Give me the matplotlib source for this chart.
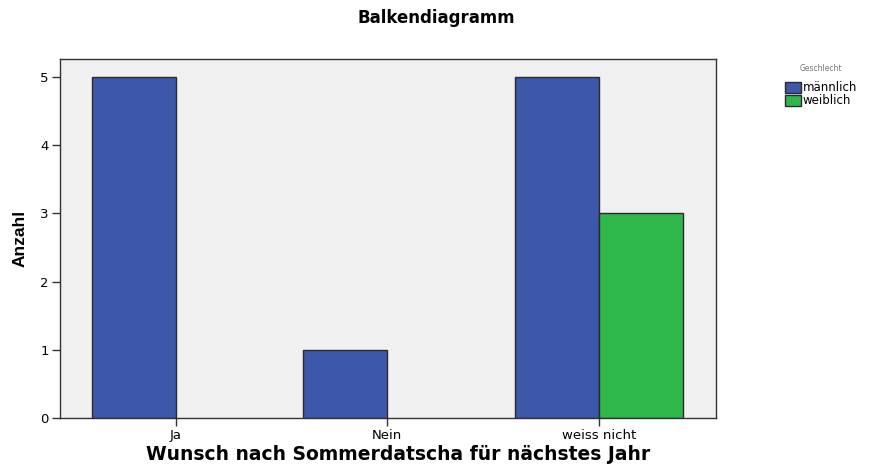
import numpy as np
import matplotlib
matplotlib.use('Agg')
import matplotlib.pyplot as plt
from matplotlib.patches import Patch

# data
categories = ['Ja', 'Nein', 'weiss nicht']
maennlich = [5, 1, 5]
weiblich = [0, 0, 3]
yticks = [0, 1, 2, 3, 4, 5]

blue = '#3D57AA'
green = '#2EB84B'
edge = '#2a2a2a'

plt.rcParams['font.family'] = ['DejaVu Sans']

fig = plt.figure(figsize=(8.72, 4.66), dpi=100)
ax = fig.add_axes([0.0688, 0.103, 0.752, 0.770])
ax.set_facecolor('#F0F0F0')

x = np.arange(len(categories))
w = 0.397
# zero counts get no bar at all (SPSS draws nothing there)
for vals, col, sgn in [(maennlich, blue, -1), (weiblich, green, 1)]:
    xs = [xi for xi, v in zip(x, vals) if v > 0]
    hs = [v for v in vals if v > 0]
    ax.bar(xs, hs, width=sgn * w, align='edge', color=col, edgecolor=edge, linewidth=1.0)

ax.set_xlim(-0.548, 2.553)
ax.set_ylim(0, 5.26)
ax.set_xticks(x)
ax.set_xticklabels(categories, fontsize=9.5)
ax.set_yticks(yticks)
ax.set_yticklabels([str(v) for v in yticks], fontsize=9.5)
ax.tick_params(direction='out', length=6, width=1, color='#333333', pad=2)
for s in ax.spines.values():
    s.set_color('#333333')
    s.set_linewidth(1)

ax.set_ylabel('Anzahl', fontsize=12.5, fontweight='bold',
              family='Liberation Sans', labelpad=9)

fig.text(0.50, 0.962, 'Balkendiagramm', ha='center', va='center',
         fontsize=12, fontweight='bold')
fig.text(0.456, 0.024, 'Wunsch nach Sommerdatscha für nächstes Jahr',
         ha='center', va='center', fontsize=13.5, fontweight='bold')

handles = [Patch(facecolor=blue, edgecolor=edge, label='männlich'),
           Patch(facecolor=green, edgecolor=edge, label='weiblich')]
leg = fig.legend(handles=handles, title='Geschlecht', loc='upper left',
                 bbox_to_anchor=(0.894, 0.875), frameon=False, fontsize=8.5,
                 title_fontsize=5.5, handlelength=1.3, handleheight=1.1,
                 handletextpad=0.15, labelspacing=0.0, borderpad=0)
leg.get_title().set_color('#777777')
leg._legend_box.align = 'center'
leg._legend_box.sep = 6

fig.savefig('out.png', dpi=100)
